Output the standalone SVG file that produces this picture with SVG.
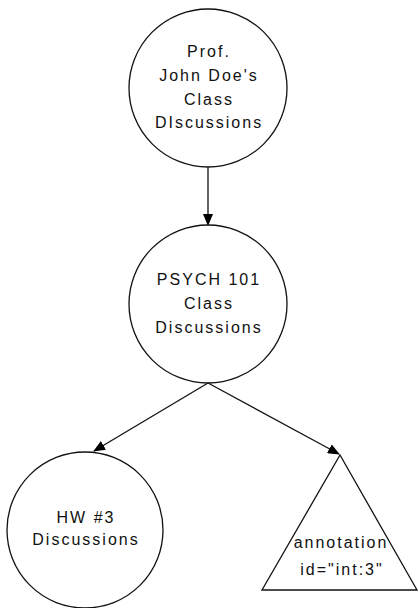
<svg xmlns="http://www.w3.org/2000/svg" width="418" height="608" viewBox="0 0 418 608">
<style>
.shape{fill:#fff;stroke:#111;stroke-width:1.3}
.lbl{font-family:"Liberation Sans",Arial,sans-serif;font-size:16px;letter-spacing:2px;fill:#111;text-anchor:middle}
.conn{stroke:#111;stroke-width:1.3;fill:none}
</style>
<defs>
<marker id="arr" markerWidth="12" markerHeight="10" refX="11" refY="5" orient="auto" markerUnits="userSpaceOnUse">
<path d="M0,0 L12,5 L0,10 Z" fill="#000"/>
</marker>
</defs>
<rect width="418" height="608" fill="#fff"/>
<g id="connectors">
<line class="conn" x1="208" y1="167" x2="208" y2="225" marker-end="url(#arr)"/>
<line class="conn" x1="208" y1="383" x2="94" y2="451" marker-end="url(#arr)"/>
<line class="conn" x1="208" y1="383" x2="339" y2="454" marker-end="url(#arr)"/>
</g>
<g id="n1">
<circle class="shape" cx="208" cy="88" r="79"/>
<text class="lbl" x="209" y="57">Prof.</text>
<text class="lbl" x="209" y="81">John Doe's</text>
<text class="lbl" x="209" y="105">Class</text>
<text class="lbl" x="209" y="128">DIscussions</text>
</g>
<g id="n2">
<circle class="shape" cx="208" cy="304" r="79"/>
<text class="lbl" x="209" y="285">PSYCH 101</text>
<text class="lbl" x="209" y="309">Class</text>
<text class="lbl" x="209" y="333">Discussions</text>
</g>
<g id="n3">
<circle class="shape" cx="85" cy="530" r="78"/>
<text class="lbl" x="86" y="523">HW #3</text>
<text class="lbl" x="86" y="545">Discussions</text>
</g>
<g id="n4">
<polygon class="shape" points="340,455 262,590 417,590"/>
<text class="lbl" x="341" y="548">annotation</text>
<text class="lbl" x="342" y="575">id="int:3"</text>
</g>
</svg>
